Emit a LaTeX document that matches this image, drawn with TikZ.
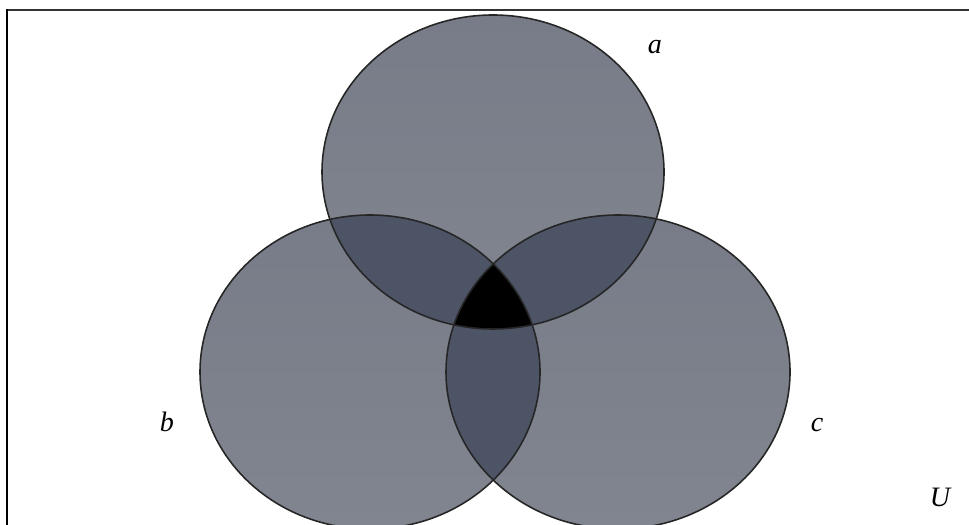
\documentclass[tikz,border=0pt]{standalone}
\usepackage{fontspec}
\setmainfont{Liberation Serif}
\definecolor{setfill}{HTML}{7B808C}
\definecolor{settop}{HTML}{777C88}
\definecolor{setbot}{HTML}{80858F}
\definecolor{pairfill}{HTML}{4C5465}
\begin{document}
\begin{tikzpicture}[x=0.02cm,y=0.02cm,
  setline/.style={draw=black!85,line width=0.9pt},
  lbl/.style={font=\fontsize{16}{18}\selectfont\itshape, inner sep=0pt},
  framel/.style={line width=1.6pt,black}]
\useasboundingbox (0,0) rectangle (969,524);
\def\ca{(493,352) ellipse [x radius=171, y radius=157]}
\def\cb{(370,152) ellipse [x radius=170, y radius=157]}
\def\cc{(618,152) ellipse [x radius=172, y radius=157]}
% single fills
\shade[top color=settop,bottom color=setbot] \ca;
\shade[top color=settop,bottom color=setbot] \cb;
\shade[top color=settop,bottom color=setbot] \cc;
% pairwise
\begin{scope}\clip \ca; \fill[pairfill] \cb; \fill[pairfill] \cc; \end{scope}
\begin{scope}\clip \cb; \fill[pairfill] \cc; \end{scope}
% triple
\begin{scope}\clip \ca; \clip \cb; \fill[black] \cc; \end{scope}
% outlines
\draw[setline] \ca;
\draw[setline] \cb;
\draw[setline] \cc;
% labels
\node[lbl] (la) at (655,477) {a};
\node[lbl] (lb) at (167,102) {b};
\node[lbl] (lc) at (817,99) {c};
\node[lbl] (lu) at (940,27) {U};
% frame
\draw[line width=1.2pt,black!80] (7,514) -- (975,514);
\draw[framel] (7,515) -- (7,-5);
\end{tikzpicture}
\end{document}
